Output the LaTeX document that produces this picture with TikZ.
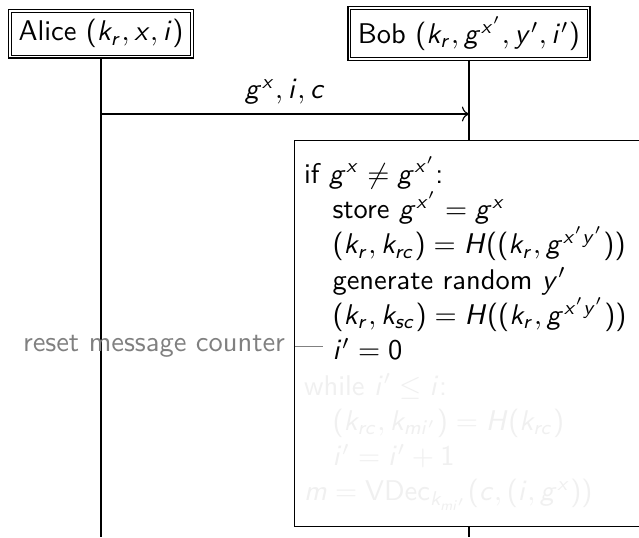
\documentclass[tikz,border=0pt]{standalone}
\usepackage{tikz}
\usetikzlibrary{positioning}
\usetikzlibrary{arrows.meta}
\renewcommand{\familydefault}{\sfdefault}
% sans serif letters and digits in math
\DeclareSymbolFont{sfletters}{OT1}{cmss}{m}{it}
\DeclareSymbolFont{sfupright}{OT1}{cmss}{m}{n}
\makeatletter
\count@=`a
\loop
  \mathcode\count@=\numexpr"7000+\symsfletters*"100+\count@\relax
  \mathcode\numexpr\count@-32\relax=\numexpr"7000+\symsfletters*"100+\count@-32\relax
  \ifnum\count@<`z \advance\count@ 1 \repeat
\count@=`0
\loop
  \mathcode\count@=\numexpr"7000+\symsfupright*"100+\count@\relax
  \ifnum\count@<`9 \advance\count@ 1 \repeat
\mathcode`(=\numexpr"4000+\symsfupright*"100+`(\relax
\mathcode`)=\numexpr"5000+\symsfupright*"100+`)\relax
\mathcode`+=\numexpr"2000+\symsfupright*"100+`+\relax
\makeatother
\colorlet{faint}{black!6}
\tikzset{actor/.style = {draw, double, fill = white, inner sep = 3pt}}
\tikzset{statebox/.style = {draw, fill = white, anchor = north west, align = left,
    text width = 4.3cm, inner xsep = 3.33pt, inner ysep = 5.5pt,
    font = \fontsize{10}{12.4}\selectfont}}
\tikzset{note/.style = {gray}}

\begin{document}
\begin{tikzpicture}
    \useasboundingbox (0,0) rectangle (7.885,6.627);
    \coordinate (bottom) at (0,0);
    \coordinate (msg) at (0,5.22);
    \node[actor] (alice) at (1.246,6.21) {Alice $(k_r, x, i)$};
    \node[actor] (bob) at (5.787,6.21) {Bob $(k_r, g^{x'}, y', i')$};
    \foreach \p in {alice, bob} {
        \draw (\p.south) -- (\p.south |- bottom); % lifeline
    }
    \draw[->] (alice.south |- msg) -- (bob.south |- msg) node[midway, above] {$g^x, i, c$};
    \node[statebox] (bobstate) at (3.628,4.899) {%
        if $g^x \neq g^{x'}$:\\
        \hspace*{1em}store $g^{x'} = g^x$\\
        \hspace*{1em}$(k_r, k_{rc}) = H((k_r, g^{x'y'}))$\\
        \hspace*{1em}generate random $y'$\\
        \hspace*{1em}$(k_r, k_{sc}) = H((k_r, g^{x'y'}))$\\
        \hspace*{1em}$i' = 0$\\
        \color{faint}while $i' \leq i$:\\
        \hspace*{1em}$(k_{rc}, k_{mi'}) = H(k_{rc})$\\
        \hspace*{1em}$i' = i' + 1$\\
        $m = \mathsf{VDec}_{k_{mi'}}(c, (i, g^x))$};
    \node[note, anchor = east] (reset) at (3.64,2.351) {reset message counter};
    \coordinate (resetend) at (3.986,2.351);
    \draw[note] (reset) -- (resetend);
\end{tikzpicture}
\end{document}
